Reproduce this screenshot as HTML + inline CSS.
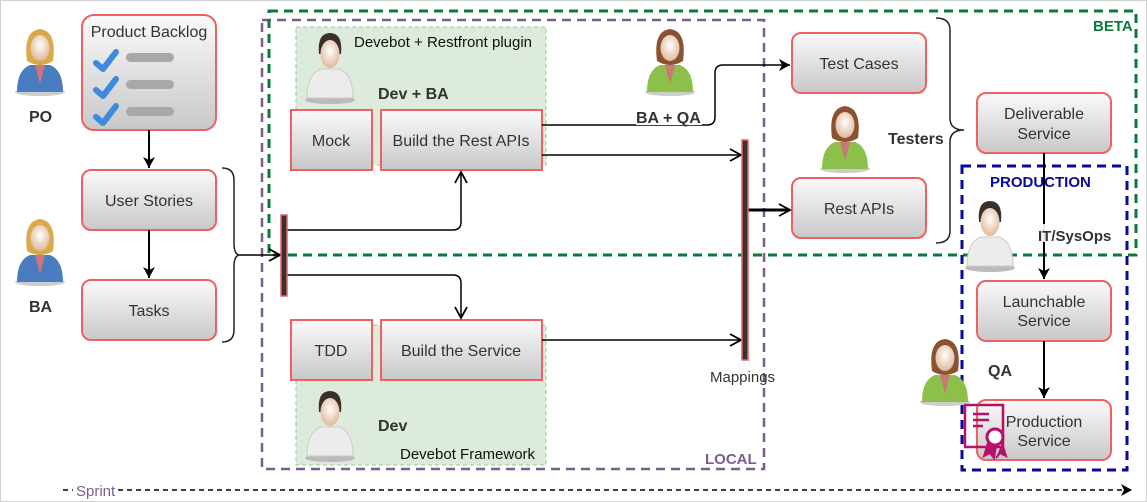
<!DOCTYPE html>
<html><head><meta charset="utf-8"><style>
html,body{margin:0;padding:0;background:#fff;}
svg{display:block;font-family:"Liberation Sans",Arial,sans-serif;}
</style></head><body>
<svg width="1147" height="502" viewBox="0 0 1147 502" xmlns="http://www.w3.org/2000/svg">
<defs>
<linearGradient id="g" x1="0" y1="0" x2="0" y2="1"><stop offset="0" stop-color="#fafafa"/><stop offset="1" stop-color="#c8c8c8"/></linearGradient>
<radialGradient id="skin" cx="0.5" cy="0.4" r="0.6"><stop offset="0" stop-color="#fff"/><stop offset="1" stop-color="#e0b89a"/></radialGradient>
<marker id="a" markerWidth="16" markerHeight="16" refX="13" refY="8" orient="auto" markerUnits="userSpaceOnUse"><path d="M2,2 L13,8 L2,14" fill="none" stroke="#000" stroke-width="1.8"/></marker>
<marker id="af" markerWidth="14" markerHeight="14" refX="12" refY="7" orient="auto" markerUnits="userSpaceOnUse"><path d="M1,1 L12,7 L1,13 L4,7z" fill="#000"/></marker>
<g id="woman">
<ellipse cx="25" cy="64" rx="25" ry="4" fill="#ccc"/>
<path d="M2,64 Q2,42 15,37 L35,37 Q48,42 48,64z" fill="currentColor"/>
<path d="M20,37 L25,56 L30,37z" fill="#c77"/>
<path d="M12,33 Q8,3 25,1 Q42,3 38,33 Q25,41 12,33z" fill="var(--hair)"/>
<ellipse cx="25" cy="20" rx="9.5" ry="13" fill="url(#skin)"/>
</g>
<g id="man">
<ellipse cx="25" cy="68" rx="25" ry="4" fill="#bbb"/>
<path d="M2,66 Q2,42 16,37 L34,37 Q48,42 48,66z" fill="#ececec" stroke="#ccc"/>
<path d="M14,22 Q12,1 25,1 Q38,1 36,22z" fill="#3a3028"/>
<ellipse cx="25" cy="22" rx="9.5" ry="14" fill="url(#skin)"/>
</g>
</defs>
<rect x="0.5" y="0.5" width="1146" height="501" fill="#fff" stroke="#d0d0d0"/>

<rect x="296" y="27" width="250" height="138" fill="#dcebdc" stroke="#8fcf8f" stroke-dasharray="4,3"/>
<rect x="296" y="325" width="250" height="140" fill="#dcebdc" stroke="#8fcf8f" stroke-dasharray="4,3"/>

<rect x="262" y="20" width="502" height="449" fill="none" stroke="#7a5c8e" stroke-width="2.5" stroke-dasharray="9,6"/>
<rect x="269" y="11" width="867" height="244" fill="none" stroke="#0a7a3a" stroke-width="3" stroke-dasharray="9,6"/>
<rect x="962" y="166" width="165" height="304" fill="none" stroke="#0a0a99" stroke-width="3" stroke-dasharray="9,6"/>
<text x="1093" y="31" font-size="15" font-weight="bold" fill="#0a7a3a">BETA</text>
<text x="705" y="464" font-size="15" font-weight="bold" fill="#7a5c8e">LOCAL</text>
<text x="990" y="187" font-size="15" font-weight="bold" fill="#0a0a99">PRODUCTION</text>

<g stroke="#f06060" stroke-width="2" fill="url(#g)">
<rect x="82" y="15" width="134" height="115" rx="12"/>
<rect x="82" y="170" width="134" height="60" rx="9"/>
<rect x="82" y="280" width="134" height="60" rx="9"/>
<rect x="291" y="110" width="81" height="60"/>
<rect x="381" y="110" width="161" height="60"/>
<rect x="291" y="320" width="81" height="60"/>
<rect x="381" y="320" width="161" height="60"/>
<rect x="792" y="33" width="134" height="60" rx="9"/>
<rect x="792" y="178" width="134" height="60" rx="9"/>
<rect x="977" y="93" width="134" height="60" rx="9"/>
<rect x="977" y="281" width="134" height="60" rx="9"/>
<rect x="977" y="400" width="134" height="60" rx="9"/>
</g>
<g font-size="16" fill="#333" text-anchor="middle">
<text x="149" y="37">Product Backlog</text>
<text x="149" y="206">User Stories</text>
<text x="149" y="316">Tasks</text>
<text x="331" y="146">Mock</text>
<text x="461" y="146">Build the Rest APIs</text>
<text x="331" y="356">TDD</text>
<text x="461" y="356">Build the Service</text>
<text x="859" y="69">Test Cases</text>
<text x="859" y="214">Rest APIs</text>
<text x="1044" y="119">Deliverable</text><text x="1044" y="139">Service</text>
<text x="1044" y="307">Launchable</text><text x="1044" y="326">Service</text>
<text x="1044" y="427">Production</text><text x="1044" y="446">Service</text>
</g>
<g fill="none" stroke="#3d8be0" stroke-width="6" stroke-linecap="round" stroke-linejoin="round">
<path d="M96,63 L103,69 L116,52"/><path d="M96,90 L103,96 L116,79"/><path d="M96,117 L103,123 L116,106"/>
</g>
<g fill="#a8a8a8"><rect x="126" y="53" width="48" height="9" rx="4.5"/><rect x="126" y="80" width="48" height="9" rx="4.5"/><rect x="126" y="107" width="48" height="9" rx="4.5"/></g>

<use href="#woman" x="15" y="28" style="color:#4a7cc0;--hair:#d9a94a"/>
<use href="#woman" x="15" y="218" style="color:#4a7cc0;--hair:#d9a94a"/>
<use href="#woman" x="645" y="28" style="color:#8cc04a;--hair:#8a5230"/>
<use href="#woman" x="820" y="105" style="color:#8cc04a;--hair:#8a5230"/>
<use href="#woman" x="920" y="338" style="color:#8cc04a;--hair:#8a5230"/>
<use href="#man" x="305" y="32"/>
<use href="#man" x="305" y="390"/>
<use href="#man" x="965" y="200"/>

<g font-size="16" font-weight="bold" fill="#333">
<text x="29" y="122">PO</text><text x="29" y="312">BA</text>
<text x="378" y="99">Dev + BA</text>
<text x="378" y="431">Dev</text>
<text x="888" y="144">Testers</text>
<text x="988" y="376">QA</text>
</g>
<text x="354" y="47" font-size="15" fill="#111">Devebot + Restfront plugin</text>
<text x="400" y="459" font-size="15" fill="#111">Devebot Framework</text>

<g fill="none" stroke="#000" stroke-width="2">
<path d="M149,130 V168" marker-end="url(#af)"/>
<path d="M149,230 V278" marker-end="url(#af)"/>
<path d="M1044,153 V279" marker-end="url(#af)"/>
<path d="M1044,341 V398" marker-end="url(#af)"/>
</g>
<rect x="1037" y="224" width="82" height="18" fill="#fff" opacity="0.9"/>
<text x="1038" y="241" font-size="15" font-weight="bold" fill="#333">IT/SysOps</text>
<g fill="none" stroke="#222" stroke-width="1.5">
<path d="M222,168 Q234,168 234,180 V243 Q234,255 240,255 Q234,255 234,267 V330 Q234,342 222,342"/>
<path d="M936,18 Q950,18 950,30 V118 Q950,130 964,130 Q950,130 950,142 V231 Q950,243 936,243"/>
</g>
<g fill="none" stroke="#000" stroke-width="1.5">
<path d="M240,255 H280" marker-end="url(#a)"/>
<path d="M286,230 H453 Q461,230 461,222 V172" marker-end="url(#a)"/>
<path d="M286,275 H453 Q461,275 461,283 V318" marker-end="url(#a)"/>
<path d="M542,125 H707 Q715,125 715,117 V73 Q715,65 723,65 H790" marker-end="url(#af)"/>
<path d="M542,155 H741" marker-end="url(#a)"/>
<path d="M542,340 H741" marker-end="url(#a)"/>
</g>
<path d="M748,210 H790" stroke="#000" stroke-width="3" fill="none" marker-end="url(#a)"/>
<rect x="636" y="107" width="66" height="18" fill="#fff"/>
<text x="636" y="123" font-size="16" font-weight="bold" fill="#333">BA + QA</text>
<rect x="281" y="215" width="6" height="81" fill="#333" stroke="#f06060" stroke-width="1.5"/>
<rect x="742" y="140" width="6" height="220" fill="#333" stroke="#f06060" stroke-width="1.5"/>
<text x="710" y="382" font-size="15" fill="#333">Mappings</text>

<g fill="none" stroke="#b5106a" stroke-width="2.5">
<rect x="965" y="405" width="38" height="42"/>
<path d="M973,414 H989 M973,420 H989 M973,426 H983"/>
</g>
<circle cx="995" cy="437" r="8" fill="#fff" stroke="#b5106a" stroke-width="3"/>
<path d="M988,443 L984,456 L990,453 L994,458 L996,446 M1002,443 L1006,456 L1000,453 L996,458" fill="#b5106a" stroke="#b5106a" stroke-width="2"/>

<path d="M63,490 H73 M118,490 H1132" stroke="#000" stroke-width="1.5" stroke-dasharray="5,4" fill="none" marker-end="url(#af)"/>
<text x="76" y="496" font-size="15" fill="#7a5c8e">Sprint</text>
</svg>
</body></html>
